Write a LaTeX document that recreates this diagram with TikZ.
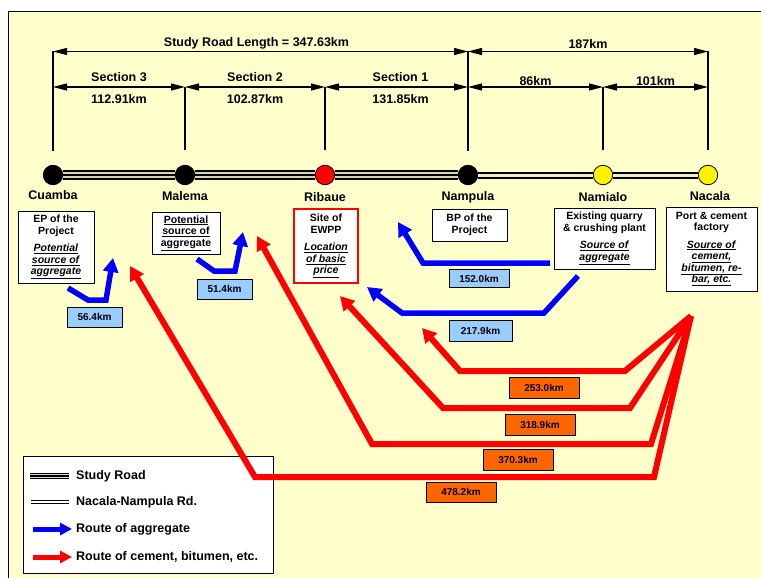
\documentclass[tikz,border=0pt]{standalone}
\usepackage{fontspec}
\setmainfont{Liberation Sans}
\usetikzlibrary{arrows.meta,positioning}
\definecolor{paper}{HTML}{FFFFCC}
\definecolor{roadkhaki}{HTML}{D6D6A8}
\definecolor{roadlight}{HTML}{EEEEC4}
\definecolor{aggblue}{HTML}{0000FF}
\definecolor{kmblue}{HTML}{99CCFF}
\definecolor{kmorange}{HTML}{FF6600}
\tikzset{
    town/.style={circle,draw,line width=0.8pt,minimum size=19.5pt,inner sep=0pt},
    townname/.style={font=\fontsize{12.5}{14}\selectfont\bfseries,inner sep=1pt},
    dimtick/.style={-,line width=1.2pt},
    dimline/.style={<->,>={Triangle[length=14pt,width=7pt]},line width=1.2pt},
    dimlabel/.style={font=\fontsize{12.5}{14}\selectfont\bfseries,inner sep=2pt},
    infobox/.style={rectangle,draw,fill=white,line width=0.8pt,align=center,
        font=\fontsize{10.5}{11.5}\selectfont\bfseries,inner sep=1pt},
    kmbox/.style={rectangle,draw,line width=0.8pt,minimum height=20pt,
        font=\fontsize{10}{12}\selectfont\bfseries,inner sep=1pt},
    aggroute/.style={-{Triangle[length=14pt,width=15pt]},line width=5.5pt,draw=aggblue},
    cemroute/.style={-{Triangle[length=14pt,width=15pt]},line width=6pt,draw=red},
    studyroad/.style={line width=9.3pt,draw=black,
        postaction={draw=roadkhaki,line width=5.8pt},
        postaction={draw=black,line width=2pt}},
    nnroad/.style={draw=black,double=roadlight,double distance=3pt,line width=2pt},
    legtext/.style={anchor=west,font=\fontsize{12.5}{14}\selectfont\bfseries,inner sep=1pt},
}

\begin{document}
\begin{tikzpicture}[x=1pt,y=-1pt]
\useasboundingbox (0,0) rectangle (761,578);
\fill[paper] (8.5,11.5) rectangle (790,600);
\draw[line width=1pt] (8.5,600) -- (8.5,11.5) -- (790,11.5);

\coordinate (top) at (0,51.5);
\coordinate (mid) at (0,87);

\node[town,fill=black] (cuamba) at (53,175) {};
\node[town,fill=black] (malema) at (185,175) {};
\node[town,fill=red] (ribaue) at (325,175) {};
\node[town,fill=black] (nampula) at (468,175) {};
\node[town,fill=yellow] (namialo) at (603,175) {};
\node[town,fill=yellow] (nacala) at (708,175) {};

\draw[studyroad] (cuamba) -- (malema);
\draw[studyroad] (malema) -- (ribaue);
\draw[studyroad] (ribaue) -- (nampula);
\draw[nnroad] (nampula) -- (namialo);
\draw[nnroad] (namialo) -- (nacala);

\node[townname,below=4pt of cuamba] (cuamba-t) {Cuamba};
\node[townname,below=5pt of malema] (malema-t) {Malema};
\node[townname,below=6pt of ribaue] (ribaue-t) {Ribaue};
\node[townname,below=5pt of nampula] (nampula-t) {Nampula};
\node[townname,below=6pt of namialo] (namialo-t) {Namialo};
\node[townname,below=5pt of nacala,xshift=2pt] (nacala-t) {Nacala};

\draw[dimtick] ([yshift=14pt]cuamba.north) -- (cuamba |- top);
\draw[dimtick] ([yshift=15pt]malema.north) -- (malema |- mid);
\draw[dimtick] ([yshift=15pt]ribaue.north) -- (ribaue |- mid);
\draw[dimtick] ([yshift=14pt]nampula.north) -- (nampula |- top);
\draw[dimtick] ([yshift=15pt]namialo.north) -- (namialo |- mid);
\draw[dimtick] ([yshift=15pt]nacala.north) -- (nacala |- top);

\draw[dimline] (cuamba |- top) -- (nampula |- top)
    node[dimlabel,midway,above,xshift=-4pt] (total) {Study Road Length = 347.63km};
\draw[dimline] (nampula |- top) -- (nacala |- top)
    node[dimlabel,midway,above] (nn) {187km};
\draw[dimline] (cuamba |- mid) -- (malema |- mid)
    node[dimlabel,midway,above,yshift=3pt] (sec3) {Section 3}
    node[dimlabel,midway,below,yshift=-5pt] (sec3-km) {112.91km};
\draw[dimline] (malema |- mid) -- (ribaue |- mid)
    node[dimlabel,midway,above,yshift=3pt] (sec2) {Section 2}
    node[dimlabel,midway,below,yshift=-5pt] (sec2-km) {102.87km};
\draw[dimline] (ribaue |- mid) -- (nampula |- mid)
    node[dimlabel,midway,above,yshift=3pt,xshift=4pt] (sec1) {Section 1}
    node[dimlabel,midway,below,yshift=-5pt,xshift=4pt] (sec1-km) {131.85km};
\draw[dimline] (nampula |- mid) -- (namialo |- mid)
    node[dimlabel,midway,above,inner sep=1pt] (d86) {86km};
\draw[dimline] (namialo |- mid) -- (nacala |- mid)
    node[dimlabel,midway,above,inner sep=1pt] (d101) {101km};

\node[infobox,minimum width=76pt,minimum height=72pt] (ep) at (56,247)
    {EP of the\\Project\\[6pt]\underline{\textit{Potential}}\\\underline{\textit{source of}}\\\underline{\textit{aggregate}}};
\node[infobox,minimum width=68pt,minimum height=42pt] (malema-b) at (186,233)
    {\underline{Potential}\\\underline{source of}\\\underline{aggregate}};
\node[infobox,draw=red,line width=1.2pt,minimum width=64pt,minimum height=74pt] (ewpp) at (326,246)
    {Site of\\EWPP\\[6pt]\underline{\textit{Location}}\\\underline{\textit{of basic}}\\\underline{\textit{price}}};
\node[infobox,minimum width=75pt,minimum height=32pt] (bp) at (469.5,225)
    {BP of the\\Project};
\node[infobox,minimum width=101pt,minimum height=61pt] (quarry) at (604.5,238.5)
    {Existing quarry\\\& crushing plant\\[6pt]\underline{\textit{Source of}}\\\underline{\textit{aggregate}}};
\node[infobox,minimum width=91pt,minimum height=84pt] (port) at (711.5,249)
    {Port \& cement\\factory\\[6pt]\underline{\textit{Source of}}\\\underline{\textit{cement,}}\\\underline{\textit{bitumen, re-}}\\\underline{\textit{bar, etc.}}};

\node[draw,fill=white,line width=1pt,minimum width=250pt,minimum height=117pt] (legend) at (148,514.5) {};
\coordinate (l1-s) at (30,476);
\coordinate (l1-e) at (69,476);
\coordinate (l2-s) at (31,502);
\coordinate (l2-e) at (69,502);
\coordinate (l3-s) at (33,529);
\coordinate (l3-e) at (72,529);
\coordinate (l4-s) at (33,557);
\coordinate (l4-e) at (72,557);
\draw[line width=5.5pt,draw=black,postaction={draw=white!70!gray,line width=3.3pt},
    postaction={draw=black,line width=1.2pt}] (l1-s) -- (l1-e);
\draw[draw=black,double=white,double distance=2pt,line width=1.4pt] (l2-s) -- (l2-e);
\draw[aggroute,line width=5pt,-{Triangle[length=12pt,width=12pt]}] (l3-s) -- (l3-e);
\draw[cemroute,line width=5pt,-{Triangle[length=12pt,width=12pt]}] (l4-s) -- (l4-e);
\node[legtext] (l1-t) at (75,476) {Study Road};
\node[legtext] (l2-t) at (75,502) {Nacala-Nampula Rd.};
\node[legtext] (l3-t) at (75,529) {Route of aggregate};
\node[legtext] (l4-t) at (75,557) {Route of cement, bitumen, etc.};

\coordinate (a1-s) at (68,288);
\coordinate (a1-e) at (113,258);
\coordinate (a2-s) at (197,259);
\coordinate (a2-e) at (243,232);
\coordinate (a3-s) at (550,263);
\coordinate (a3-e) at (398,222);
\coordinate (a4-s) at (578,276);
\coordinate (a4-e) at (367,287);
\draw[aggroute] (a1-s) -- (88,300) -- (106,300) -- (a1-e);
\draw[aggroute] (a2-s) -- (214,271) -- (235,271) -- (a2-e);
\draw[aggroute] (a3-s) -- (423,263) -- (a3-e);
\draw[aggroute] (a4-s) -- (544,313) -- (402,313) -- (a4-e);

\coordinate (apex) at (691,316);
\coordinate (c1-e) at (422,328);
\coordinate (c2-e) at (340,296);
\coordinate (c3-e) at (257,236);
\coordinate (c4-e) at (130,266);
\draw[cemroute] (apex) -- (625,371) -- (460,371) -- (c1-e);
\draw[cemroute] (apex) -- (630,408) -- (443,408) -- (c2-e);
\draw[cemroute] (apex) -- (651,444) -- (372,444) -- (c3-e);
\draw[cemroute] (apex) -- (654,477) -- (255,477) -- (c4-e);

\node[kmbox,fill=kmblue,minimum width=55pt] (km56) at (94.5,317) {56.4km};
\node[kmbox,fill=kmblue,minimum width=55pt] (km51) at (224.5,289) {51.4km};
\node[kmbox,fill=kmblue,minimum width=60pt,minimum height=18pt] (km152) at (479,278.5) {152.0km};
\node[kmbox,fill=kmblue,minimum width=63pt,minimum height=21pt] (km217) at (480.5,330.5) {217.9km};
\node[kmbox,fill=kmorange,minimum width=70pt,minimum height=21pt] (km253) at (544,387.5) {253.0km};
\node[kmbox,fill=kmorange,minimum width=70pt,minimum height=21pt] (km318) at (540,424.5) {318.9km};
\node[kmbox,fill=kmorange,minimum width=70pt,minimum height=21pt] (km370) at (518,459.5) {370.3km};
\node[kmbox,fill=kmorange,minimum width=70pt,minimum height=20pt] (km478) at (461,492) {478.2km};
\end{tikzpicture}
\end{document}
